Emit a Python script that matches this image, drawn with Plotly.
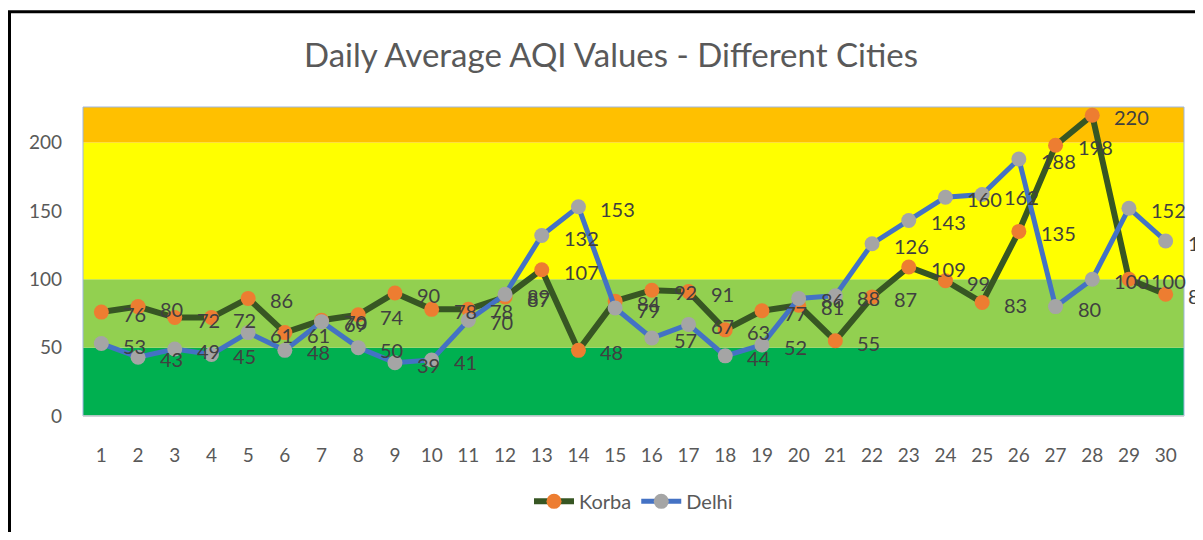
import plotly.graph_objects as go

days = list(range(1, 31))
korba = [76, 80, 72, 72, 86, 61, 70, 74, 90, 78, 78, 87, 107, 48, 84, 92, 91, 63, 77, 81,
         55, 87, 109, 99, 83, 135, 198, 220, 100, 89]
delhi = [53, 43, 49, 45, 61, 48, 69, 50, 39, 41, 70, 89, 132, 153, 79, 57, 67, 44, 52, 86,
         88, 126, 143, 160, 162, 188, 80, 100, 152, 128]

band_edges = [0, 50, 100, 200, 226]
band_colors = ["#00B050", "#92D050", "#FFFF00", "#FFC000"]

FONT = "Lato"
OFF = 8  # page body margin
W, H = 1203 - 2 * OFF, 540 - 2 * OFF
ML, MT = 83 - OFF, 107 - OFF
MR = OFF + W - 1184
MB = OFF + H - 422
PW, PH = W - ML - MR, H - MT - MB

fig = go.Figure()
fig.add_trace(go.Scatter(
    x=days, y=korba, name="Korba", mode="lines+markers",
    line=dict(color="#375623", width=6),
    marker=dict(color="#ED7D31", size=15),
))
fig.add_trace(go.Scatter(
    x=days, y=delhi, name="Delhi", mode="lines+markers",
    line=dict(color="#4472C4", width=5),
    marker=dict(color="#A5A5A5", size=15),
))

shapes = []
for i, c in enumerate(band_colors):
    shapes.append(dict(type="rect", xref="paper", yref="y", x0=0, x1=1,
                       y0=band_edges[i], y1=band_edges[i + 1],
                       fillcolor=c, line=dict(width=0), layer="below"))
shapes.append(dict(type="rect", xref="paper", yref="paper", x0=0, x1=1, y0=0, y1=1,
                   line=dict(color="#9DB5E0", width=1), layer="below"))
shapes.append(dict(type="line", xref="paper", yref="paper", x0=0, x1=1, y0=0, y1=0,
                   line=dict(color="#D0D0D0", width=1.5), layer="below"))
# outer chart frame (left and top edges visible)
shapes.append(dict(type="rect", xref="paper", yref="paper",
                   x0=(1.5 - ML) / PW, x1=(W + 30 - ML) / PW,
                   y0=(H - MB - (H + 30)) / PH, y1=(H - MB - 2) / PH,
                   line=dict(color="black", width=3), fillcolor="rgba(0,0,0,0)"))

annotations = []
for series in (korba, delhi):
    for d, v in zip(days, series):
        annotations.append(dict(x=d, y=v, xref="x", yref="y", text=str(v),
                                showarrow=False, xanchor="left", yanchor="middle",
                                xshift=20, yshift=-2,
                                font=dict(family=FONT, size=20, color="#404040")))

fig.update_layout(
    width=W, height=H,
    margin=dict(l=ML, r=MR, t=MT, b=MB),
    paper_bgcolor="white", plot_bgcolor="white",
    title=dict(text="Daily Average AQI Values - Different Cities",
               x=(611 - OFF) / W, xanchor="center", xref="container",
               y=1 - (55 - OFF) / H, yanchor="middle", yref="container",
               font=dict(family=FONT, size=33, color="#595959")),
    xaxis=dict(range=[0.5, 30.5], tickvals=days, ticktext=[str(d) for d in days],
               showgrid=False, zeroline=False, showline=False, ticks="",
               ticklabelstandoff=26,
               tickfont=dict(family=FONT, size=19, color="#595959")),
    yaxis=dict(range=[0, 226], tickvals=[0, 50, 100, 150, 200],
               showgrid=False, zeroline=False, showline=False, ticks="",
               ticklabelstandoff=20,
               tickfont=dict(family=FONT, size=19, color="#595959")),
    legend=dict(orientation="h", x=0.5, xanchor="center", y=(422 - 509) / PH,
                yanchor="middle", font=dict(family=FONT, size=20, color="#595959"),
                bgcolor="rgba(0,0,0,0)", itemwidth=40),
    shapes=shapes,
    annotations=annotations,
    showlegend=True,
)

fig.write_html("out.html")
